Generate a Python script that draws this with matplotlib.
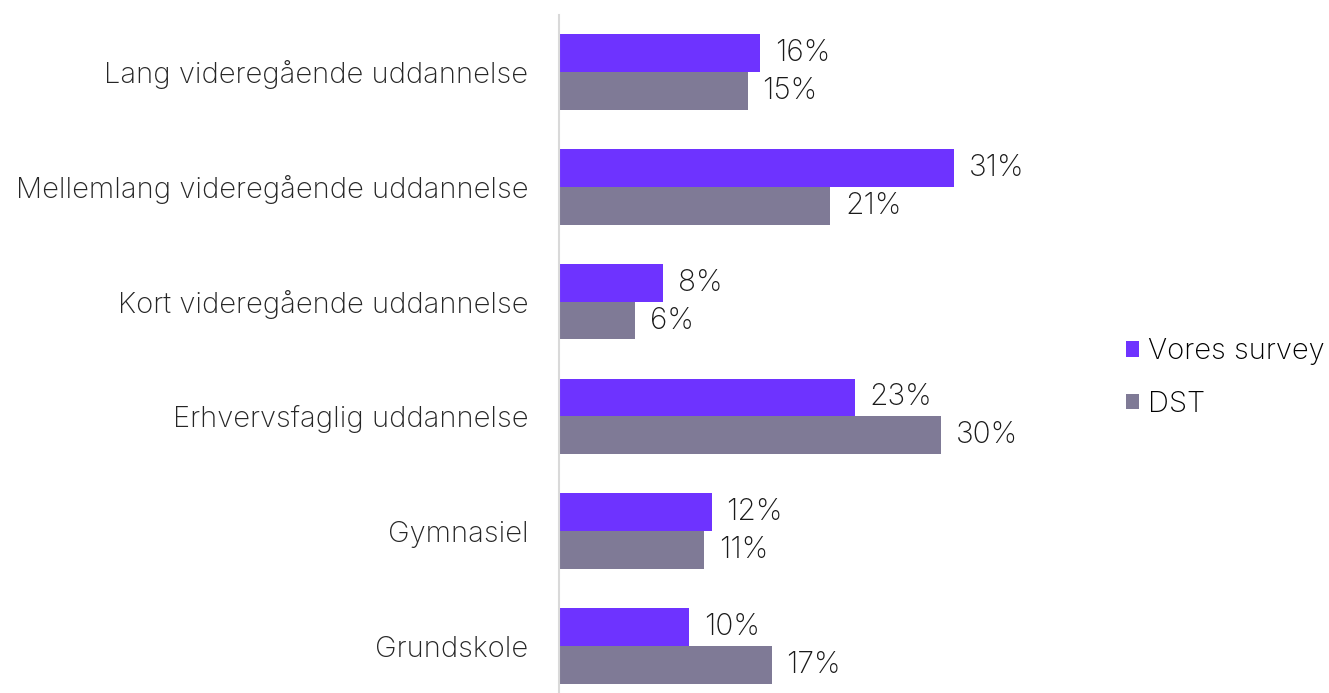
import numpy as np
import matplotlib.pyplot as plt

plt.rcParams['font.family'] = ['Inter', 'Liberation Sans', 'DejaVu Sans']
plt.rcParams['font.weight'] = 'light'

categories = ['Lang videregående uddannelse',
              'Mellemlang videregående uddannelse',
              'Kort videregående uddannelse',
              'Erhvervsfaglig uddannelse',
              'Gymnasiel',
              'Grundskole']
survey = [15.8, 31.0, 8.2, 23.2, 12.0, 10.2]
dst = [14.8, 21.3, 6.0, 30.0, 11.4, 16.7]
series_names = ['Vores survey', 'DST']

purple = '#6E33FF'
grey = '#7F7A96'

W, H = 1329, 693
fig = plt.figure(figsize=(W / 100, H / 100), dpi=100)
left = 559 / W
right = 1100 / W
top_px, bot_px = 14.5, 703.5
ax = fig.add_axes([left, (H - bot_px) / H, right - left, (bot_px - top_px) / H])

y = np.arange(len(categories))
bh = 0.33
b1 = ax.barh(y - bh / 2, survey, height=bh, color=purple, label=series_names[0])
b2 = ax.barh(y + bh / 2, dst, height=bh, color=grey, label=series_names[1])

for bars, vals in [(b1, survey), (b2, dst)]:
    for b, v in zip(bars, vals):
        ax.text(v + 1.15, b.get_y() + b.get_height() / 2, f'{v:.0f}%',
                va='center', ha='left', fontsize=21.5, color='#1a1a1a')

ax.set_ylim(len(categories) - 0.5, -0.5)
ax.set_xlim(0, (1100 - 559) / 12.74)
ax.set_yticks(y)
ax.set_yticklabels(categories, fontsize=21, color='#262626')
ax.tick_params(axis='y', length=0, pad=22)
ax.set_xticks([])
for s in ['top', 'right', 'bottom']:
    ax.spines[s].set_visible(False)
ax.spines['left'].set_color('#d9d9d9')
ax.spines['left'].set_linewidth(1.5)

fig.legend(handles=[b1, b2], labels=series_names, loc='center left',
           bbox_to_anchor=(1126 / W, 1 - 378 / H), frameon=False,
           borderaxespad=0, borderpad=0,
           fontsize=21, handlelength=0.45, handleheight=0.45,
           handletextpad=0.3, labelspacing=0.88)

fig.savefig('out.png', dpi=100)
